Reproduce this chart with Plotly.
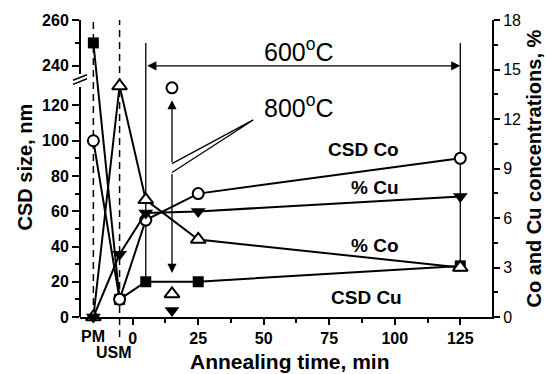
import plotly.graph_objects as go

# ---------------- data ----------------
PM_X = -15          # position used for the "PM" (powder mixture) category
USM_X = -5          # position used for the "USM" category
TIMES = [PM_X, USM_X, 5, 25, 125]
CSD_CU = [250, 10, 20, 20, 29]        # nm, left axis
CSD_CO = [100, 10, 55, 70, 90]        # nm, left axis
PCT_CO = [0, 14.0, 7.1, 4.7, 3.0]     # %, right axis
PCT_CU = [0, 3.8, 6.3, 6.4, 7.3]      # %, right axis

T_800 = [15]
CSD_CO_800 = [130]
PCT_CO_800 = [1.4]
PCT_CU_800 = [0.4]

X_TICKS = [0, 25, 50, 75, 100, 125]
X_MINOR = [12.5, 37.5, 62.5, 87.5, 112.5]
LEFT_TICKS = [0, 20, 40, 60, 80, 100, 120, 240, 260]
LEFT_MINOR = [10, 30, 50, 70, 90, 110, 250]
RIGHT_TICKS = [0, 3, 6, 9, 12, 15, 18]

# broken left axis: 0..~135 linear, then 240..260 compressed segment
BREAK_LOW_MAX = 168.5
def brk(v):
    return v if v <= 200 else 142.5 + (v - 240) * 1.3

FONT = "Arial, Liberation Sans, Helvetica, sans-serif"
BLACK = "black"

fig = go.Figure()

fig.add_trace(go.Scatter(
    x=TIMES, y=[brk(v) for v in CSD_CU], mode="lines+markers", yaxis="y",
    line=dict(color=BLACK, width=2),
    marker=dict(symbol="square", size=11, color=BLACK),
    cliponaxis=False, name="CSD Cu"))
fig.add_trace(go.Scatter(
    x=TIMES, y=[brk(v) for v in CSD_CO], mode="lines+markers", yaxis="y",
    line=dict(color=BLACK, width=2),
    marker=dict(symbol="circle", size=11, color="white", line=dict(color=BLACK, width=2)),
    cliponaxis=False, name="CSD Co"))
fig.add_trace(go.Scatter(
    x=T_800, y=[brk(v) for v in CSD_CO_800], mode="markers", yaxis="y",
    marker=dict(symbol="circle", size=11, color="white", line=dict(color=BLACK, width=2)),
    cliponaxis=False, name="CSD Co 800"))

fig.add_trace(go.Scatter(
    x=TIMES, y=PCT_CO, mode="lines+markers", yaxis="y2",
    line=dict(color=BLACK, width=2),
    marker=dict(symbol="triangle-up", size=13, color="white", line=dict(color=BLACK, width=2)),
    cliponaxis=False, name="% Co"))
fig.add_trace(go.Scatter(
    x=TIMES, y=PCT_CU, mode="lines+markers", yaxis="y2",
    line=dict(color=BLACK, width=2),
    marker=dict(symbol="triangle-down", size=13, color=BLACK),
    cliponaxis=False, name="% Cu"))
fig.add_trace(go.Scatter(
    x=T_800, y=PCT_CO_800, mode="markers", yaxis="y2",
    marker=dict(symbol="triangle-up", size=13, color="white", line=dict(color=BLACK, width=2)),
    cliponaxis=False, name="% Co 800"))
fig.add_trace(go.Scatter(
    x=T_800, y=PCT_CU_800, mode="markers", yaxis="y2",
    marker=dict(symbol="triangle-down", size=13, color=BLACK),
    cliponaxis=False, name="% Cu 800"))

shapes = []
# left spine with a break
shapes.append(dict(type="line", xref="paper", yref="y", x0=0, x1=0, y0=0, y1=130.5,
                   line=dict(color=BLACK, width=2)))
shapes.append(dict(type="line", xref="paper", yref="y", x0=0, x1=0, y0=137.8, y1=BREAK_LOW_MAX,
                   line=dict(color=BLACK, width=2)))
shapes.append(dict(type="line", xref="paper", yref="y", x0=-0.017, x1=0.017, y0=134.3, y1=137.4,
                   line=dict(color=BLACK, width=1.5)))
shapes.append(dict(type="line", xref="paper", yref="y", x0=-0.017, x1=0.017, y0=132.0, y1=135.2,
                   line=dict(color=BLACK, width=1.5)))
# dashed PM / USM lines
shapes.append(dict(type="line", xref="x", yref="paper", x0=PM_X, x1=PM_X, y0=0, y1=1,
                   line=dict(color=BLACK, width=1.5, dash="7px,5px"), layer="below"))
shapes.append(dict(type="line", xref="x", yref="paper", x0=USM_X, x1=USM_X, y0=-0.067, y1=1,
                   line=dict(color=BLACK, width=1.5, dash="7px,5px"), layer="below"))
# 600 C bracket verticals
shapes.append(dict(type="line", xref="x", yref="y", x0=5, x1=5, y0=brk(20), y1=brk(250),
                   line=dict(color=BLACK, width=1.3), layer="below"))
shapes.append(dict(type="line", xref="x", yref="y", x0=125, x1=125, y0=brk(29), y1=brk(250),
                   line=dict(color=BLACK, width=1.3), layer="below"))
# 800 C pointer wedge
shapes.append(dict(type="path", xref="x", yref="y", path="M 15,87 L 46,111.8 L 15,82",
                   line=dict(color=BLACK, width=1.3)))

annotations = []
def arrow(x, y, ax, ay, both=False):
    annotations.append(dict(x=x, y=y, ax=ax, ay=ay, xref="x", yref="y", axref="x", ayref="y",
                            text="", showarrow=True, arrowhead=2, arrowsize=1.4, arrowwidth=1.3,
                            arrowcolor=BLACK, standoff=0, startstandoff=0,
                            arrowside="end+start" if both else "end", startarrowhead=2,
                            startarrowsize=1.4))
arrow(125, brk(240), 5, brk(240), both=True)
arrow(15, 123, 15, 87)
arrow(15, 25, 15, 82)

def px_x(p):
    return (p - 80) / 412.0
def px_y(p):
    return (317 - p) / 300.0

def text(t, x, y, size, bold=True, xanchor="left", angle=0):
    annotations.append(dict(text=("<b>%s</b>" % t) if bold else t, x=x, y=y, xref="paper", yref="paper",
                            showarrow=False, xanchor=xanchor, yanchor="middle", textangle=angle,
                            font=dict(family=FONT, size=size, color=BLACK)))

text("600<sup>o</sup>C", px_x(262), px_y(47), 25, bold=False)
text("800<sup>o</sup>C", px_x(262), px_y(104), 25, bold=False)
text("CSD Co", px_x(326), px_y(148), 19)
text("% Cu", px_x(349), px_y(186), 19)
text("% Co", px_x(349), px_y(245), 19)
text("CSD Cu", px_x(329), px_y(297), 19)
text("PM", px_x(93), px_y(337), 16, xanchor="center")
text("USM", px_x(114), px_y(353), 16, xanchor="center")
text("Annealing time, min", px_x(290), px_y(362), 21, xanchor="center")
text("CSD size, nm", px_x(25), px_y(166), 20, xanchor="center", angle=-90)
text("Co and Cu concentrations, %", px_x(533), px_y(167), 20, xanchor="center", angle=-90)

fig.update_layout(
    width=546, height=374,
    margin=dict(l=80, r=54, t=17, b=57),
    plot_bgcolor="white", paper_bgcolor="white",
    showlegend=False,
    font=dict(family=FONT, color=BLACK),
    shapes=shapes, annotations=annotations,
    xaxis=dict(range=[-20.1, 137.1], tickmode="array", tickvals=X_TICKS,
               ticks="outside", ticklen=6, tickwidth=2, tickcolor=BLACK,
               showline=True, linewidth=2, linecolor=BLACK,
               showgrid=False, zeroline=False,
               tickfont=dict(family=FONT, size=16, color=BLACK, weight="bold"),
               minor=dict(tickmode="array", tickvals=X_MINOR, ticks="outside", ticklen=4,
                          tickwidth=2, tickcolor=BLACK, showgrid=False)),
    yaxis=dict(range=[0, BREAK_LOW_MAX], tickmode="array",
               tickvals=[brk(v) for v in LEFT_TICKS], ticktext=[str(v) for v in LEFT_TICKS],
               ticks="outside", ticklen=7, tickwidth=2, tickcolor=BLACK,
               showline=False, showgrid=False, zeroline=False,
               tickfont=dict(family=FONT, size=16, color=BLACK, weight="bold"),
               minor=dict(tickmode="array", tickvals=[brk(v) for v in LEFT_MINOR], ticks="outside",
                          ticklen=4, tickwidth=2, tickcolor=BLACK, showgrid=False)),
    yaxis2=dict(overlaying="y", side="right", range=[0, 18], tickmode="array", tickvals=RIGHT_TICKS,
                ticks="outside", ticklen=6, tickwidth=2, tickcolor=BLACK,
                showline=True, linewidth=2, linecolor=BLACK,
                showgrid=False, zeroline=False,
                tickfont=dict(family=FONT, size=16, color=BLACK),
                minor=dict(dtick=1.5, tick0=0, ticks="outside", ticklen=4, tickwidth=2,
                           tickcolor=BLACK, showgrid=False)),
)

fig.write_html("out.html", config={"displayModeBar": False},
               post_script="document.body.style.margin='0';document.body.style.padding='0';"
                           "document.body.style.overflow='hidden';")
